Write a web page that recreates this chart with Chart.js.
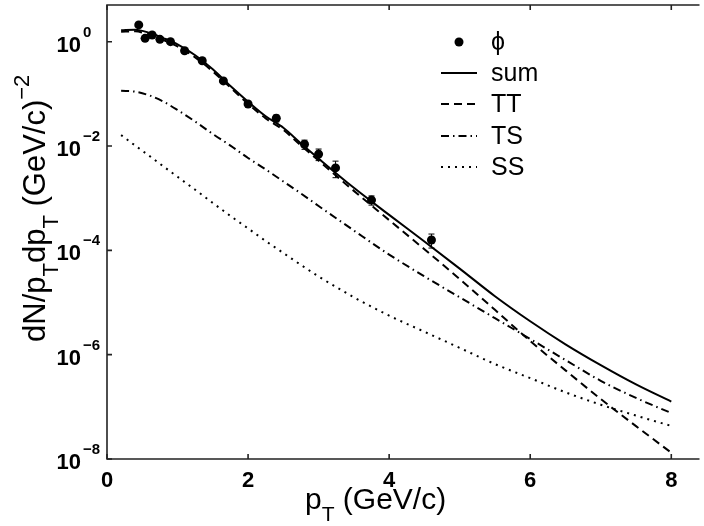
<!DOCTYPE html>
<html>
<head>
<meta charset="utf-8">
<script src="https://cdn.jsdelivr.net/npm/chart.js@4/dist/chart.umd.min.js"></script>
<style>
  body { margin: 0; background: #fff; }
  #wrap { width: 704px; height: 526px; }
</style>
</head>
<body>
<div id="wrap"><canvas id="chart" width="704" height="526"></canvas></div>
<script>
// model curves sampled on a common pT grid (GeV/c)
const ptGrid = [0.2, 0.4, 0.6, 0.8, 1.0, 1.25, 1.5, 1.75, 2.0, 2.25, 2.5, 2.75, 3.0, 3.5, 4.0, 4.5, 5.0, 5.5, 6.0, 6.5, 7.0, 7.5, 8.0];
const sumVals = [1.66, 1.70, 1.48, 1.17, 0.89, 0.55, 0.295, 0.141, 0.0708, 0.0372, 0.0224, 0.0112, 5.75e-3, 1.58e-3, 4.79e-4, 1.48e-4, 4.47e-5, 1.32e-5, 4.37e-6, 1.58e-6, 6.3e-7, 2.69e-7, 1.26e-7];
const ttVals = [1.55, 1.58, 1.35, 1.07, 0.81, 0.50, 0.269, 0.132, 0.0646, 0.0339, 0.0204, 0.0102, 5.25e-3, 1.38e-3, 3.8e-4, 1.05e-4, 2.82e-5, 7.24e-6, 1.82e-6, 5.0e-7, 1.41e-7, 4.27e-8, 1.32e-8];
const tsVals = [0.115, 0.110, 0.0933, 0.0708, 0.0490, 0.0295, 0.0170, 0.0102, 5.89e-3, 3.55e-3, 2.09e-3, 1.23e-3, 7.08e-4, 2.40e-4, 8.3e-5, 3.16e-5, 1.26e-5, 5.0e-6, 2.0e-6, 7.9e-7, 3.16e-7, 1.48e-7, 7.6e-8];
const ssVals = [0.0162, 0.0102, 6.46e-3, 4.07e-3, 2.57e-3, 1.45e-3, 8.1e-4, 4.57e-4, 2.63e-4, 1.51e-4, 8.9e-5, 5.25e-5, 3.16e-5, 1.26e-5, 5.6e-6, 2.75e-6, 1.35e-6, 6.6e-7, 3.55e-7, 1.9e-7, 1.1e-7, 6.8e-8, 4.3e-8];

// phi data points, relative errors
const phiPt = [0.45, 0.54, 0.64, 0.75, 0.90, 1.10, 1.35, 1.65, 2.0, 2.4, 2.8, 3.0, 3.24, 3.75, 4.6];
const phiVals = [2.1, 1.16, 1.34, 1.11, 1.0, 0.67, 0.43, 0.177, 0.064, 0.034, 0.0108, 0.0070, 0.0038, 0.00092, 0.000158];
const phiErr = [0, 0, 0, 0, 0, 0, 0, 0, 0, 0.15, 0.2, 0.25, 0.35, 0.2, 0.3];

const xTicks = [0, 2, 4, 6, 8];
const yTickExps = [0, -2, -4, -6, -8];
const legendNames = ['\u03D5', 'sum', 'TT', 'TS', 'SS'];

const FONT = '"Liberation Sans", Arial, sans-serif';
const toXY = (xs, ys) => xs.map((x, i) => ({ x: x, y: ys[i] }));

function curve(label, vals, dash) {
    return {
        label: label,
        data: toXY(ptGrid, vals),
        borderColor: '#000',
        borderWidth: 2,
        borderDash: dash,
        pointRadius: 0,
        cubicInterpolationMode: 'monotone',
        fill: false
    };
}

const dashes = { sum: [], TT: [8, 5], TS: [8, 4, 1.5, 4], SS: [2, 5] };

const frame = {
    id: 'frame',
    afterDatasetsDraw(chart) {
        const ctx = chart.ctx;
        const xs = chart.scales.x, ys = chart.scales.y;
        // error bars
        ctx.save();
        ctx.strokeStyle = '#000';
        ctx.lineWidth = 1;
        phiPt.forEach((p, i) => {
            if (!phiErr[i]) return;
            const px = xs.getPixelForValue(p);
            const top = ys.getPixelForValue(phiVals[i] * (1 + phiErr[i]));
            const bot = ys.getPixelForValue(phiVals[i] * (1 - phiErr[i]));
            ctx.beginPath();
            ctx.moveTo(px, top); ctx.lineTo(px, bot);
            ctx.moveTo(px - 3, top); ctx.lineTo(px + 3, top);
            ctx.moveTo(px - 3, bot); ctx.lineTo(px + 3, bot);
            ctx.stroke();
        });
        ctx.restore();
    },
    afterDraw(chart) {
        const ctx = chart.ctx;
        const a = chart.chartArea;
        const xs = chart.scales.x, ys = chart.scales.y;
        ctx.save();
        ctx.strokeStyle = '#222';
        ctx.lineWidth = 1.6;
        ctx.beginPath();
        ctx.moveTo(a.right, a.top); ctx.lineTo(a.left, a.top);
        ctx.lineTo(a.left, a.bottom); ctx.lineTo(a.right, a.bottom);
        ctx.stroke();
        // inward ticks
        ctx.beginPath();
        xTicks.forEach(t => {
            const px = xs.getPixelForValue(t);
            ctx.moveTo(px, a.bottom); ctx.lineTo(px, a.bottom - 5);
            ctx.moveTo(px, a.top); ctx.lineTo(px, a.top + 5);
        });
        yTickExps.forEach(e => {
            const py = ys.getPixelForValue(Math.pow(10, e));
            ctx.moveTo(a.left, py); ctx.lineTo(a.left + 5, py);
        });
        ctx.stroke();

        // y tick labels 10^e
        ctx.fillStyle = '#000';
        ctx.textBaseline = 'alphabetic';
        yTickExps.forEach(e => {
            const py = ys.getPixelForValue(Math.pow(10, e));
            ctx.font = 'bold 22px ' + FONT;
            ctx.textAlign = 'right';
            ctx.fillText('10', 81, py + 10);
            ctx.font = 'bold 15px ' + FONT;
            ctx.textAlign = 'left';
            ctx.fillText(e === 0 ? '0' : '\u2212' + Math.abs(e), 83, py - 5);
        });

        // x title: p_T (GeV/c)
        ctx.textAlign = 'left';
        let x = 305;
        const by = 509;
        ctx.font = '30px ' + FONT;
        ctx.fillText('p', x, by); x += ctx.measureText('p').width;
        ctx.font = '21px ' + FONT;
        ctx.fillText('T', x, by + 12); x += ctx.measureText('T').width;
        ctx.font = '30px ' + FONT;
        ctx.fillText(' (GeV/c)', x, by);

        // y title: dN/p_T dp_T (GeV/c)^-2
        ctx.save();
        ctx.translate(45, 342);
        ctx.rotate(-Math.PI / 2);
        const parts = [
            ['dN/p', 31, 0], ['T', 22, 13], ['dp', 31, 0], ['T', 22, 13],
            [' (GeV/c)', 31, 0], ['\u22122', 22, -16]
        ];
        let u = 0;
        parts.forEach(([txt, size, off]) => {
            ctx.font = size + 'px ' + FONT;
            ctx.fillText(txt, u, off);
            u += ctx.measureText(txt).width;
        });
        ctx.restore();

        // legend
        const lx0 = 441, lx1 = 477, tx = 491;
        const rows = [42, 73, 104, 136, 167];
        ctx.font = '25px ' + FONT;
        ctx.textBaseline = 'middle';
        ctx.beginPath();
        ctx.arc(459, rows[0], 4.5, 0, Math.PI * 2);
        ctx.fill();
        ctx.fillText(legendNames[0], tx, rows[0] + 1);
        const ldash = [dashes.sum, dashes.TT, dashes.TS, dashes.SS];
        ctx.strokeStyle = '#000';
        ctx.lineWidth = 2;
        for (let i = 1; i < 5; i++) {
            ctx.setLineDash(ldash[i - 1]);
            ctx.beginPath();
            ctx.moveTo(lx0, rows[i]); ctx.lineTo(lx1, rows[i]);
            ctx.stroke();
            ctx.fillText(legendNames[i], tx, rows[i] + 1);
        }
        ctx.restore();
    }
};

new Chart(document.getElementById('chart'), {
    type: 'line',
    data: {
        datasets: [
            curve('sum', sumVals, dashes.sum),
            curve('TT', ttVals, dashes.TT),
            curve('TS', tsVals, dashes.TS),
            curve('SS', ssVals, dashes.SS),
            {
                label: 'phi',
                data: toXY(phiPt, phiVals),
                showLine: false,
                pointRadius: 4.5,
                pointBackgroundColor: '#000',
                pointBorderColor: '#000',
                borderWidth: 0
            }
        ]
    },
    options: {
        responsive: false,
        animation: false,
        devicePixelRatio: 1,
        layout: { padding: { top: 5, right: 0, left: 0, bottom: 0 } },
        plugins: { legend: { display: false }, tooltip: { enabled: false } },
        scales: {
            x: {
                type: 'linear', min: 0, max: 8.4,
                grid: { display: false, drawTicks: false },
                border: { display: false },
                ticks: {
                    stepSize: 2, includeBounds: false, maxRotation: 0, padding: 9,
                    color: '#000', font: { family: FONT, size: 22, weight: 'bold' }
                },
                afterFit: s => { s.height = 67; }
            },
            y: {
                type: 'logarithmic', min: 1e-8, max: 5.05,
                grid: { display: false, drawTicks: false },
                border: { display: false },
                ticks: { display: false },
                afterFit: s => { s.width = 107; }
            }
        }
    },
    plugins: [frame]
});
</script>
</body>
</html>
